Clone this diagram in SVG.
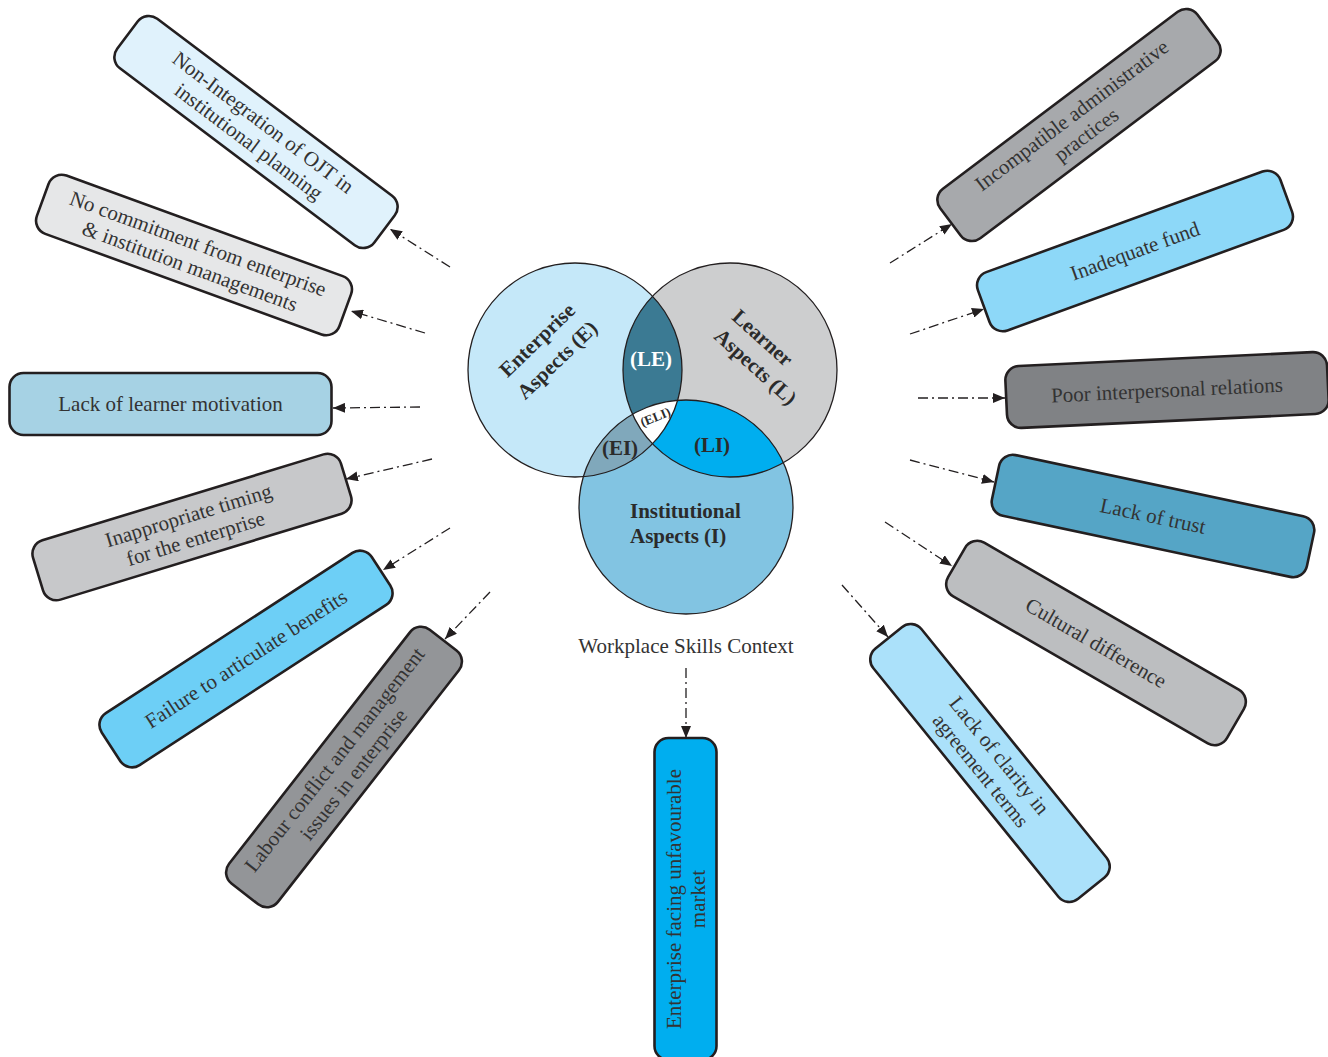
<svg xmlns="http://www.w3.org/2000/svg" width="1328" height="1057" viewBox="0 0 1328 1057">
  <defs>
    <style>
      .box { stroke: #231f20; stroke-width: 2.6; }
      .lbl { font-family: "Liberation Serif", "Times New Roman", serif; font-size: 21px; fill: #333333; text-anchor: middle; }
      .venn { font-family: "Liberation Serif", "Times New Roman", serif; font-weight: bold; font-size: 21px; fill: #2b2b2b; text-anchor: middle; }
      .ring { fill: none; stroke: #231f20; stroke-width: 1.3; }
      .link { fill: none; stroke: #231f20; stroke-width: 1.3; stroke-dasharray: 10 4 2 4; marker-end: url(#head); }
    </style>
    <marker id="head" viewBox="0 0 12 10" refX="12" refY="5" markerWidth="12" markerHeight="10" markerUnits="userSpaceOnUse" orient="auto">
      <path d="M0,0 L12,5 L0,10 Z" fill="#231f20"/>
    </marker>
    <clipPath id="clipE"><circle cx="575" cy="370" r="107"/></clipPath>
    <clipPath id="clipL"><circle cx="730" cy="370" r="107"/></clipPath>
  </defs>

  <!-- Venn diagram of the three aspect areas -->
  <g id="venn">
    <circle cx="575" cy="370" r="107" fill="#c5e8f9"/>
    <circle cx="730" cy="370" r="107" fill="#cdcecf"/>
    <circle cx="730" cy="370" r="107" fill="#3b7a93" clip-path="url(#clipE)"/>
    <circle cx="686" cy="507" r="107" fill="#82c4e2"/>
    <circle cx="686" cy="507" r="107" fill="#80a8bb" clip-path="url(#clipE)"/>
    <circle cx="686" cy="507" r="107" fill="#00aeef" clip-path="url(#clipL)"/>
    <g clip-path="url(#clipE)">
      <circle cx="686" cy="507" r="107" fill="#ffffff" clip-path="url(#clipL)"/>
    </g>
    <circle class="ring" cx="575" cy="370" r="107"/>
    <circle class="ring" cx="730" cy="370" r="107"/>
    <circle class="ring" cx="686" cy="507" r="107"/>

    <text class="venn" transform="translate(542,345) rotate(-44)">Enterprise</text>
    <text class="venn" transform="translate(562,365) rotate(-44)">Aspects (E)</text>
    <text class="venn" transform="translate(758,343) rotate(42)">Learner</text>
    <text class="venn" transform="translate(751,372) rotate(42)">Aspects (L)</text>
    <text class="venn" x="630" y="518" style="text-anchor:start">Institutional</text>
    <text class="venn" x="630" y="543" style="text-anchor:start">Aspects (I)</text>
    <text class="venn" x="651" y="366" style="fill:#ffffff">(LE)</text>
    <text class="venn" x="620" y="455">(EI)</text>
    <text class="venn" x="712" y="452">(LI)</text>
    <text class="venn" transform="translate(657,421) rotate(-22)" style="font-size:13px">(ELI)</text>
  </g>

  <text id="context" class="lbl" x="686" y="653">Workplace Skills Context</text>

  <!-- Dash-dot connectors from the centre out to each barrier -->
  <g id="connectors">
    <line class="link" x1="450" y1="267" x2="390" y2="229"/>
    <line class="link" x1="425" y1="333" x2="351" y2="311"/>
    <line class="link" x1="420" y1="407" x2="333" y2="408"/>
    <line class="link" x1="432" y1="459" x2="346" y2="479"/>
    <line class="link" x1="450" y1="528" x2="383" y2="570"/>
    <line class="link" x1="490" y1="592" x2="445" y2="639"/>
    <line class="link" x1="686" y1="668" x2="686" y2="738"/>
    <line class="link" x1="842" y1="585" x2="888" y2="637"/>
    <line class="link" x1="885" y1="522" x2="952" y2="566"/>
    <line class="link" x1="910" y1="460" x2="994" y2="482"/>
    <line class="link" x1="918" y1="398" x2="1005" y2="398"/>
    <line class="link" x1="910" y1="334" x2="984" y2="309"/>
    <line class="link" x1="890" y1="263" x2="952" y2="224"/>
  </g>

  <!-- Barrier boxes -->
  <g id="non-integration" transform="translate(256,132) rotate(37)">
    <rect class="box" x="-161" y="-31" width="322" height="62" rx="14" fill="#e0f2fc"/>
    <text class="lbl" y="-5">Non-Integration of OJT in</text>
    <text class="lbl" y="19">institutional planning</text>
  </g>

  <g id="no-commitment" transform="translate(194,255) rotate(20)">
    <rect class="box" x="-161" y="-31" width="322" height="62" rx="14" fill="#e6e7e8"/>
    <text class="lbl" y="-5">No commitment from enterprise</text>
    <text class="lbl" y="19">&amp; institution managements</text>
  </g>

  <g id="learner-motivation" transform="translate(170.5,404)">
    <rect class="box" x="-161" y="-31" width="322" height="62" rx="14" fill="#a6d2e4"/>
    <text class="lbl" y="7">Lack of learner motivation</text>
  </g>

  <g id="timing" transform="translate(192,527) rotate(-17)">
    <rect class="box" x="-161" y="-31" width="322" height="62" rx="14" fill="#c7c8ca"/>
    <text class="lbl" y="-5">Inappropriate timing</text>
    <text class="lbl" y="19">for the enterprise</text>
  </g>

  <g id="benefits" transform="translate(246,659) rotate(-33)">
    <rect class="box" x="-161" y="-31" width="322" height="62" rx="14" fill="#6dcff6"/>
    <text class="lbl" y="7">Failure to articulate benefits</text>
  </g>

  <g id="labour-conflict" transform="translate(344,767) rotate(-52)">
    <rect class="box" x="-161" y="-31" width="322" height="62" rx="14" fill="#939598"/>
    <text class="lbl" y="-5">Labour conflict and management</text>
    <text class="lbl" y="19">issues in enterprise</text>
  </g>

  <g id="market" transform="translate(685.5,899) rotate(-90)">
    <rect class="box" x="-161" y="-31" width="322" height="62" rx="14" fill="#00aeef"/>
    <text class="lbl" y="-5">Enterprise facing unfavourable</text>
    <text class="lbl" y="19">market</text>
  </g>

  <g id="agreement-terms" transform="translate(990,763) rotate(51)">
    <rect class="box" x="-161" y="-31" width="322" height="62" rx="14" fill="#abe1fa"/>
    <text class="lbl" y="-5">Lack of clarity in</text>
    <text class="lbl" y="19">agreement terms</text>
  </g>

  <g id="cultural" transform="translate(1096,643) rotate(30)">
    <rect class="box" x="-161" y="-31" width="322" height="62" rx="14" fill="#bcbec0"/>
    <text class="lbl" y="7">Cultural difference</text>
  </g>

  <g id="trust" transform="translate(1153,516) rotate(12)">
    <rect class="box" x="-161" y="-31" width="322" height="62" rx="14" fill="#55a5c6"/>
    <text class="lbl" y="7">Lack of trust</text>
  </g>

  <g id="interpersonal" transform="translate(1167,390) rotate(-2.7)">
    <rect class="box" x="-161" y="-31" width="322" height="62" rx="14" fill="#808285"/>
    <text class="lbl" y="7">Poor interpersonal relations</text>
  </g>

  <g id="fund" transform="translate(1135,251) rotate(-20)">
    <rect class="box" x="-161" y="-31" width="322" height="62" rx="14" fill="#8dd8f8"/>
    <text class="lbl" y="7">Inadequate fund</text>
  </g>

  <g id="administrative" transform="translate(1079,125) rotate(-37)">
    <rect class="box" x="-161" y="-31" width="322" height="62" rx="14" fill="#a7a9ac"/>
    <text class="lbl" y="-5">Incompatible administrative</text>
    <text class="lbl" y="19">practices</text>
  </g>
</svg>
